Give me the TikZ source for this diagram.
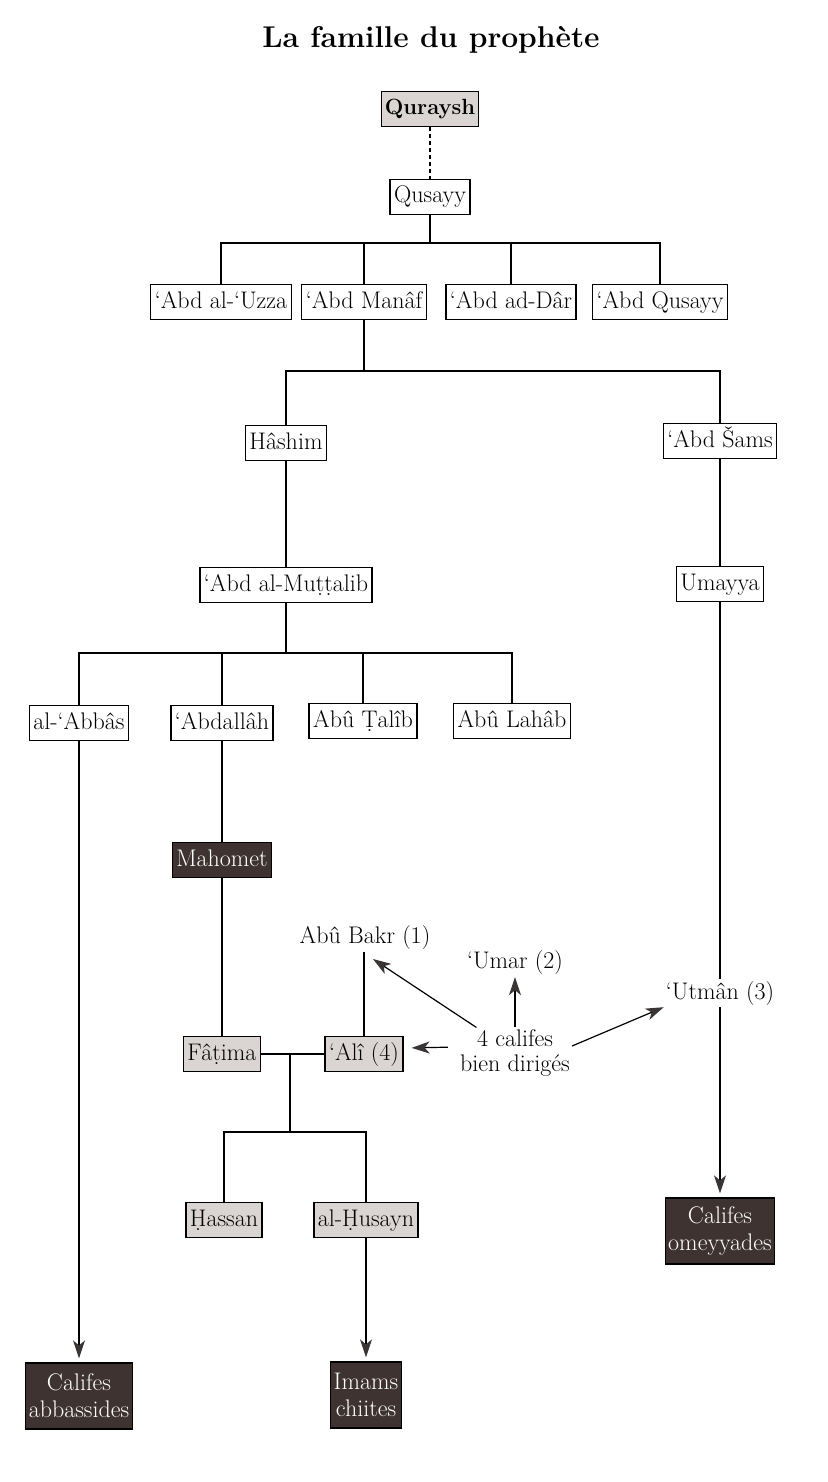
\documentclass[tikz,border=0pt]{standalone}
\usepackage{tikz}
\usetikzlibrary{arrows.meta}

\definecolor{grisclair}{HTML}{DAD5D3}
\definecolor{brunfonce}{HTML}{3E3330}
\definecolor{grisfleche}{HTML}{3A3434}
\newcommand\corps{\fontsize{24}{27}\selectfont}
\newcommand\ps[1]{\oalign{#1\crcr\hidewidth.\hidewidth}}

\begin{document}
\begin{tikzpicture}[x=1pt,y=-1pt,
    boite/.style={rectangle, draw=black, line width=1.3pt, inner xsep=4pt, font=\corps},
    personne/.style={boite, fill=white, minimum height=35pt, inner ysep=0pt, text height=17pt, text depth=5pt},
    clair/.style={personne, fill=grisclair},
    sombre/.style={personne, fill=brunfonce, text=white},
    dynastie/.style={boite, fill=brunfonce, text=white, align=center, minimum height=66pt, inner xsep=3pt},
    libre/.style={inner sep=2pt, font=\corps, align=center},
    trait/.style={line width=1.2pt},
    fleche/.style={line width=1.2pt, -{Stealth[length=18pt,width=12pt,inset=5pt,color=grisfleche]}}]
    \useasboundingbox (0,0) rectangle (827,1482);

    \node[font=\fontsize{30}{32}\selectfont\bfseries] (titre) at (431,40) {La famille du prophète};

    % les ancetres
    \node[clair, inner xsep=3pt, font=\fontsize{22}{26}\selectfont\bfseries] (quraysh) at (430,109) {Quraysh};
    \node[personne] (qusayy) at (430,197) {Qusayy};
    \node[personne] (uzza) at (221,302) {‘Abd al-‘Uzza};
    \node[personne] (manaf) at (364,302) {‘Abd Manâf};
    \node[personne] (dar) at (511,302) {‘Abd ad-Dâr};
    \node[personne] (qusayyfils) at (660,302) {‘Abd Qusayy};
    \node[personne] (hashim) at (286,443) {Hâshim};
    \node[personne] (sams) at (720,441) {‘Abd Šams};
    \node[personne] (muttalib) at (286,585) {‘Abd al-Mu\ps{t}\ps{t}alib};
    \node[personne] (umayya) at (720,584) {Umayya};
    \node[personne] (abbas) at (79,723) {al-‘Abbâs};
    \node[personne] (abdallah) at (222,723) {‘Abdallâh};
    \node[personne] (talib) at (363,721) {Abû \ps{T}alîb};
    \node[personne] (lahab) at (512,721) {Abû Lahâb};

    % le prophete et sa descendance
    \node[sombre] (mahomet) at (222,860) {Mahomet};
    \node[clair] (fatima) at (222,1054) {Fâ\ps{t}ima};
    \node[clair] (ali) at (364,1054) {‘Alî (4)};
    \node[clair] (hassan) at (224,1220) {\ps{H}assan};
    \node[clair] (husayn) at (366,1220) {al-\ps{H}usayn};

    % les califes
    \node[libre] (bakr) at (365,938) {Abû Bakr (1)};
    \node[libre] (umar) at (515,963) {‘Umar (2)};
    \node[libre] (utman) at (720,993) {‘Utmân (3)};
    \node[libre, font=\fontsize{24}{25}\selectfont] (califes) at (515,1053) {4 califes\\bien dirigés};
    \coordinate (bakrpointe) at (373,959);

    \node[dynastie] (abbassides) at (79,1396) {Califes\\abbassides};
    \node[dynastie] (chiites) at (366,1395) {Imams\\chiites};
    \node[dynastie] (omeyyades) at (720,1231) {Califes\\omeyyades};

    % liens
    \draw[trait, dash pattern=on 4pt off 3pt] (quraysh) -- (qusayy);
    \coordinate (j1) at (430,243);
    \draw[trait] (qusayy) -- (j1);
    \foreach \n in {uzza,manaf,dar,qusayyfils}
        \draw[trait] (j1) -| (\n);
    \coordinate (j2) at (364,371);
    \draw[trait] (manaf) -- (j2);
    \foreach \n in {hashim,sams}
        \draw[trait] (j2) -| (\n);
    \draw[trait] (hashim) -- (muttalib);
    \draw[trait] (sams) -- (umayya);
    \coordinate (j3) at (286,653);
    \draw[trait] (muttalib) -- (j3);
    \foreach \n in {abbas,abdallah,talib,lahab}
        \draw[trait] (j3) -| (\n);
    \draw[trait] (abdallah) -- (mahomet) -- (fatima);
    \draw[trait] (fatima) -- (ali);
    \coordinate (j4) at (290,1054);
    \coordinate (j5) at (290,1132);
    \draw[trait] (j4) -- (j5);
    \foreach \n in {hassan,husayn}
        \draw[trait] (j5) -| (\n);
    \draw[trait] (ali.north) -- (ali.north |- bakr.south);
    \draw[trait] (umayya) -- (utman);

    \draw[fleche] (califes) -- (bakrpointe);
    \draw[fleche] (califes.north) -- (umar.south);
    \draw[fleche, shorten <=10pt, shorten >=8pt] ([yshift=6pt]califes.west) -- ([yshift=6pt]ali.east);
    \draw[fleche] ([yshift=7pt]califes.east) -- (utman.south west);
    \draw[fleche, shorten >=4pt] (utman) -- (omeyyades);
    \draw[fleche, shorten >=4pt] (abbas) -- (abbassides);
    \draw[fleche, shorten >=4pt] (husayn) -- (chiites);
\end{tikzpicture}
\end{document}
